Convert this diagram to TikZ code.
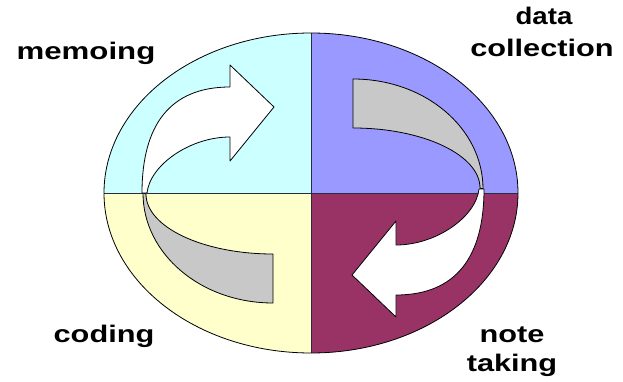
\documentclass[tikz,border=0pt]{standalone}
\usepackage{fontspec}
\usepackage{graphicx}
\newfontfamily\lblfont{Liberation Sans}
\definecolor{qcyan}{HTML}{CCFFFF}
\definecolor{qblue}{HTML}{9999FF}
\definecolor{qmaroon}{HTML}{993366}
\definecolor{qyellow}{HTML}{FFFFCC}
\definecolor{qgray}{HTML}{C8C8C8}
\definecolor{qline}{HTML}{2A2A40}
\begin{document}
\begin{tikzpicture}[x=1pt,y=-1pt,
  lbl/.style={font=\lblfont\bfseries\fontsize{24}{28}\selectfont, inner sep=0pt, anchor=base},
  band/.style={draw=black, line width=0.8pt, line join=round},
  divider/.style={draw=qline, line width=0.9pt},
  turnarrow/.pic={
    \filldraw[band, fill=qgray] (143,193) .. controls (143,254) and (201,303) .. (273,303)
      -- (273,254) .. controls (203,254) and (146,227) .. (146,194) -- cycle;
    \filldraw[band, fill=white] (142,193) .. controls (142,125) and (170,87) .. (230,87)
      -- (230,65) -- (274,107) -- (230,161) -- (230,137)
      .. controls (190,137) and (150,165) .. (147,193) -- cycle;
  }]
\useasboundingbox (0,0) rectangle (623,382);
\fill[white] (0,0) rectangle (623,382);
\coordinate (c) at (311,193);
\begin{scope}
  \clip (c) ellipse [x radius=207pt, y radius=160pt];
  \fill[qcyan] (100,30) rectangle (c);
  \fill[qblue] (522,30) rectangle (c);
  \fill[qyellow] (100,356) rectangle (c);
  \fill[qmaroon] (522,356) rectangle (c);
\end{scope}
\coordinate (w) at (104,193);
\coordinate (e) at (518,193);
\coordinate (n) at (311,33);
\coordinate (s) at (311,353);
\draw[divider] (w) -- (e);
\draw[divider] (n) -- (s);
\draw[black, line width=0.8pt] (c) ellipse [x radius=207pt, y radius=160pt];
\pic at (0,0) {turnarrow};
\pic[rotate=180] at (626,382) {turnarrow};
\node[lbl] (memo) at (86,60) {\scalebox{1.3}[1]{memoing}};
\node[lbl] (data) at (544,25) {\scalebox{1.15}[1]{data}};
\node[lbl] (coll) at (542,57) {\scalebox{1.28}[1]{collection}};
\node[lbl] (code) at (104,342) {\scalebox{1.28}[1]{coding}};
\node[lbl] (note) at (512,342) {\scalebox{1.28}[1]{note}};
\node[lbl] (take) at (512,371) {\scalebox{1.28}[1]{taking}};
\end{tikzpicture}
\end{document}
